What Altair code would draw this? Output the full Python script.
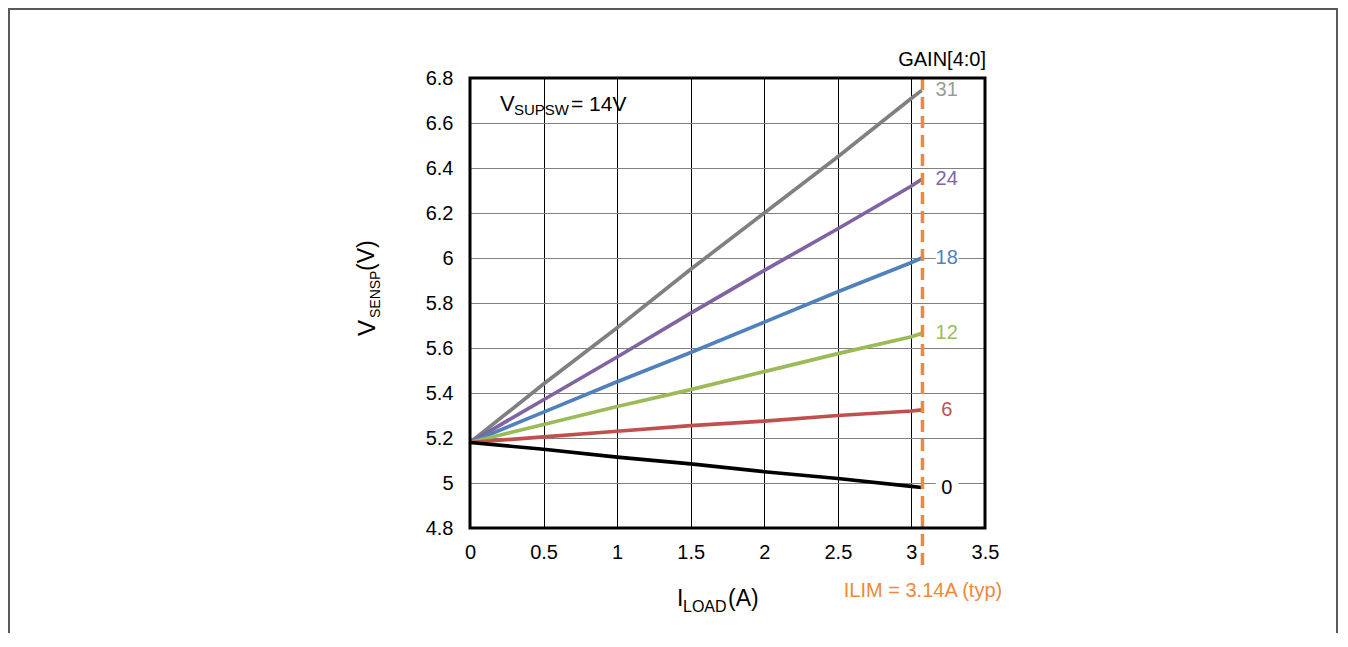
import altair as alt
import pandas as pd

# ---------------- data ----------------
load_a = [0, 0.5, 1, 1.5, 2, 2.5, 3, 3.07]
gain_labels = ["31", "24", "18", "12", "6", "0"]
v_gain31 = [5.18, 5.44, 5.69, 5.95, 6.20, 6.45, 6.71, 6.745]
v_gain24 = [5.18, 5.37, 5.56, 5.755, 5.945, 6.13, 6.32, 6.35]
v_gain18 = [5.18, 5.315, 5.45, 5.58, 5.715, 5.85, 5.98, 6.0]
v_gain12 = [5.18, 5.26, 5.34, 5.415, 5.495, 5.575, 5.65, 5.665]
v_gain6 = [5.18, 5.205, 5.23, 5.255, 5.275, 5.30, 5.32, 5.325]
v_gain0 = [5.18, 5.15, 5.115, 5.085, 5.05, 5.02, 4.985, 4.98]
series_values = [v_gain31, v_gain24, v_gain18, v_gain12, v_gain6, v_gain0]
line_colors = ["#808080", "#8064a2", "#4f81bd", "#9bbb59", "#c0504d", "#000000"]
label_colors = ["#9a9a9a", "#8064a2", "#4f81bd", "#9bbb59", "#c0504d", "#000000"]
x_ticks = [0, 0.5, 1, 1.5, 2, 2.5, 3, 3.5]
y_ticks = [4.8, 5.0, 5.2, 5.4, 5.6, 5.8, 6.0, 6.2, 6.4, 6.6, 6.8]
ilim_x = [3.075]
label_x = 3.24

FONT = "Liberation Sans"
ORANGE = "#f0883c"

rows = []
for g, vals in zip(gain_labels, series_values):
    for x, v in zip(load_a, vals):
        rows.append({"gain": g, "iload": x, "v": v})
df = pd.DataFrame(rows)

lab = pd.DataFrame({
    "gain": gain_labels,
    "v": [vals[-1] for vals in series_values],
    "color": label_colors,
})
lab["x"] = label_x
lab["xa"] = 3.165
lab["xb"] = 3.32
lab["ya"] = lab["v"] - 0.045
lab["yb"] = lab["v"] + 0.045

one = pd.DataFrame({"k": [0]})

xscale = alt.Scale(domain=[0, 3.5], nice=False, zero=False)
yscale = alt.Scale(domain=[4.8, 6.8], nice=False, zero=False)
xaxis = alt.Axis(values=x_ticks, format="~g", domain=False, ticks=False,
                 labelFontSize=20, labelFont=FONT, labelColor="black",
                 labelPadding=14, grid=True, gridColor="#000000",
                 gridWidth=1, gridOpacity=1, labelFlush=False, title=None)
yaxis = alt.Axis(values=y_ticks, format="~g", domain=False, ticks=False,
                 labelFontSize=20, labelFont=FONT, labelColor="black",
                 labelPadding=17, grid=True, gridColor="#808080",
                 gridWidth=1, gridOpacity=1, labelFlush=False, title=None)

lines = alt.Chart(df).mark_line(strokeWidth=3.7).encode(
    x=alt.X("iload:Q", scale=xscale, axis=xaxis, title=None),
    y=alt.Y("v:Q", scale=yscale, axis=yaxis, title=None),
    color=alt.Color("gain:N", scale=alt.Scale(domain=gain_labels, range=line_colors),
                    legend=None),
    detail="gain:N",
    order="iload:Q",
)

ilim_rule = alt.Chart(pd.DataFrame({"x": ilim_x})).mark_rule(
    color=ORANGE, strokeWidth=3.5, strokeDash=[12, 7]
).encode(
    x=alt.X("x:Q", scale=xscale, axis=xaxis, title=None),
    y=alt.value(0),
    y2=alt.value(492),
)

label_bg = alt.Chart(lab).mark_rect(color="white").encode(
    x=alt.X("xa:Q", scale=xscale, axis=xaxis, title=None),
    x2="xb:Q",
    y=alt.Y("ya:Q", scale=yscale, axis=yaxis, title=None),
    y2="yb:Q",
)

labels = alt.Chart(lab).mark_text(
    font=FONT, fontSize=20, align="center", baseline="middle"
).encode(
    x=alt.X("x:Q", scale=xscale, axis=xaxis, title=None),
    y=alt.Y("v:Q", scale=yscale, axis=yaxis, title=None),
    text="gain:N",
    color=alt.Color("color:N", scale=None, legend=None),
)

frame = alt.Chart(one).mark_rect(
    fillOpacity=0, stroke="black", strokeWidth=3
).encode(x=alt.value(0), x2=alt.value(515), y=alt.value(0), y2=alt.value(450))

outer = alt.Chart(one).mark_rect(
    fillOpacity=0, stroke="#5a5a5a", strokeWidth=2
).encode(x=alt.value(-461), x2=alt.value(867), y=alt.value(-69), y2=alt.value(600))


def txt(s, x, y, size, color="black", align="left", angle=0):
    kw = dict(text=s, font=FONT, fontSize=size, color=color, align=align,
              baseline="alphabetic")
    if angle:
        kw["angle"] = angle
    return alt.Chart(one).mark_text(**kw).encode(x=alt.value(x), y=alt.value(y))


annotations = [
    txt("GAIN[4:0]", 516, -12, 20, align="right"),
    txt("V", 30, 33, 22),
    txt("SUPSW", 44, 37, 15),
    txt("= 14V", 101, 33, 21),
    txt("ILIM = 3.14A (typ)", 453, 519, 20, color=ORANGE, align="center"),
    txt("I", 207, 528, 23),
    txt("LOAD", 213, 534, 16),
    txt("(A)", 258, 528, 23),
    txt("V", -95, 258, 24, angle=270),
    txt("SENSP", -90, 240, 14, angle=270),
    txt("(V)", -96, 193, 23, angle=270),
]

chart = alt.layer(
    lines, ilim_rule, label_bg, labels, frame, outer, *annotations
).properties(
    width=515, height=450,
    autosize=alt.AutoSizeParams(type="none"),
    padding={"left": 462, "top": 70, "right": 353, "bottom": 105},
).configure_view(stroke=None).configure(background="white")

chart.save("out.html", embed_options={"renderer": "svg", "actions": False})
